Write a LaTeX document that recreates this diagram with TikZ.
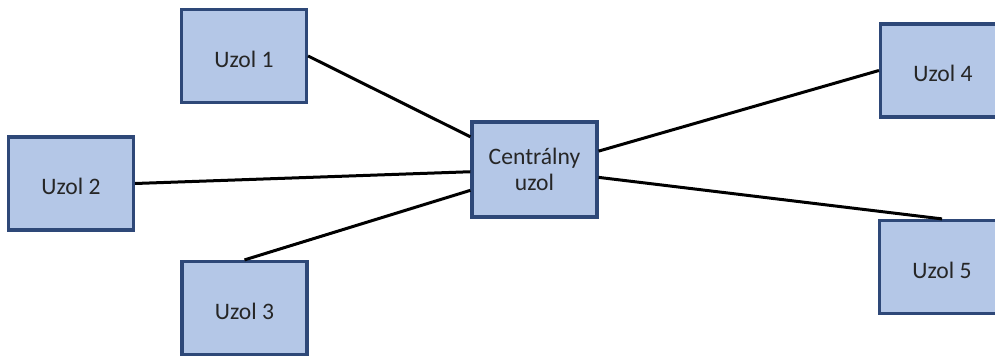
\documentclass[tikz,border=0pt]{standalone}
\usepackage{fontspec}
\setmainfont{Carlito}
\definecolor{uzolFill}{HTML}{B4C7E7}
\definecolor{uzolStroke}{HTML}{2E4878}

\begin{document}
\begin{tikzpicture}[
  x=0.75pt,y=-0.75pt,
  font=\fontsize{17.7}{20}\selectfont,
  uzol/.style={rectangle,draw=uzolStroke,line width=2.4pt,fill=uzolFill,text=black!85,minimum width=93.75pt,minimum height=69.75pt,align=center,inner sep=2pt},
  leaf/.style={uzol,text height=17pt,text depth=0pt},
  edge/.style={line width=2.25pt,draw=black}
]
\useasboundingbox (0,0) rectangle (995,356);
% Star layout: the central node in the middle, five outer nodes around it.
\node[uzol,minimum height=71.25pt] (central) at (534.5,169.5) {Centrálny\\uzol};
\node[leaf] (u1) at (244,56) {Uzol 1};
\node[leaf] (u2) at (71,183.5) {Uzol 2};
\node[leaf] (u3) at (244.5,308) {Uzol 3};
\node[leaf] (u4) at (943,70.5) {Uzol 4};
\node[leaf] (u5) at (942,267) {Uzol 5};
\draw[edge] (u1.east) -- (central.153);
\draw[edge] (u2.east) -- (central.182);
\draw[edge] (u3.north) -- (central.198);
\draw[edge] (central.16) -- (u4.west);
\draw[edge] (central.353) -- (u5.north);
\end{tikzpicture}
\end{document}
